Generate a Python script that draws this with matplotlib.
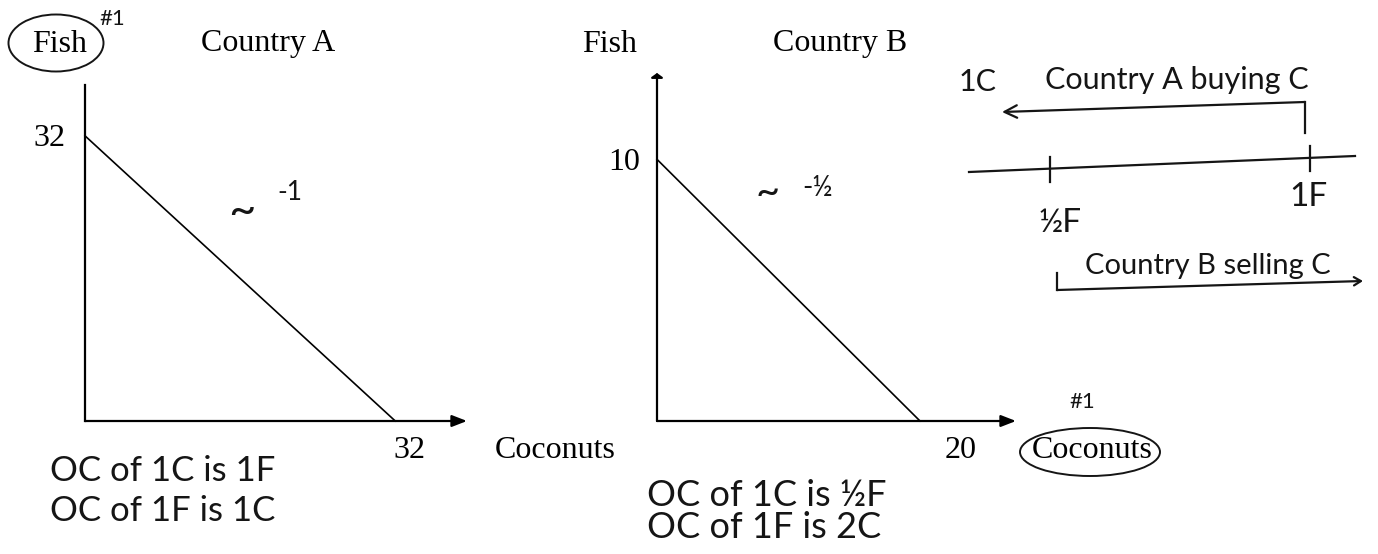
import matplotlib.pyplot as plt
from matplotlib.patches import Ellipse

# production possibilities: (max fish, max coconuts) for each country
countries = ['Country A', 'Country B']
fish_max = [32, 10]
coconut_max = [32, 20]
slope_notes = ['-1', '-½']
oc_notes = [['OC of 1C is 1F', 'OC of 1F is 1C'],
            ['OC of 1C is ½F', 'OC of 1F is 2C']]
# terms of trade, in fish per coconut
trade_prices = [0.5, 1.0]
trade_labels = ['½F', '1F']

W, H = 1378, 554
fig = plt.figure(figsize=(W / 100, H / 100), dpi=100)

# overlay in pixel units for labels and hand notes
over = fig.add_axes([0, 0, 1, 1])
over.set_xlim(0, W)
over.set_ylim(H, 0)
over.axis('off')

serif = 'Liberation Serif'
ink = '#151515'
hand = dict(family=['Lato', 'DejaVu Sans'], color=ink)


def ppf_axes(left, bottom, right, top, xmax, ymax):
    ax = fig.add_axes([left / W, (H - bottom) / H, (right - left) / W, (bottom - top) / H])
    ax.set_xlim(0, xmax)
    ax.set_ylim(0, ymax)
    ax.axis('off')
    return ax


axA = ppf_axes(85, 421, 467, 85, 39.4, 37.7)
axB = ppf_axes(657, 421, 1016, 73, 27.3, 13.3)

for ax, fm, cm, ytop_arrow in [(axA, fish_max[0], coconut_max[0], False),
                               (axB, fish_max[1], coconut_max[1], True)]:
    ax.plot([0, cm], [fm, 0], color='black', lw=1.2, clip_on=False)
    ax.annotate('', xy=(1, 0), xytext=(0, 0), xycoords='axes fraction',
                arrowprops=dict(arrowstyle='-|>,head_length=0.9,head_width=0.35',
                                color='black', lw=1.6, shrinkA=0, shrinkB=0))
    if ytop_arrow:
        ax.annotate('', xy=(0, 1), xytext=(0, 0), xycoords='axes fraction',
                    arrowprops=dict(arrowstyle='-|>,head_length=0.25,head_width=0.35',
                                    color='black', lw=1.6, shrinkA=0, shrinkB=0))
    else:
        ax.plot([0, 0], [0, 1], transform=ax.transAxes, color='black', lw=1.6,
                clip_on=False)

# printed labels
fs = 23
printed = [
    (60, 44, 'Fish'), (268, 44, countries[0]),
    (49, 138, str(fish_max[0])), (409, 450, str(coconut_max[0])),
    (555, 450, 'Coconuts'),
    (610, 44, 'Fish'), (840, 44, countries[1]),
    (624, 162, str(fish_max[1])), (961, 450, str(coconut_max[1])),
    (1092, 450, 'Coconuts'),
]
for x, y, s in printed:
    over.text(x, y, s, family=serif, fontsize=fs, ha='center', va='center')

# circled axis labels and "#1" marks
over.add_patch(Ellipse((56, 43), 95, 57, fill=False, ec=ink, lw=1.4))
over.add_patch(Ellipse((1090, 452), 140, 48, fill=False, ec=ink, lw=1.4))
over.text(112, 19, '#1', fontsize=16, ha='center', va='center', **hand)
over.text(1082, 402, '#1', fontsize=16, ha='center', va='center', **hand)

# slope notes next to each frontier
over.text(242, 212, '~', fontsize=34, ha='center', va='center', **hand)
over.text(290, 192, slope_notes[0], fontsize=19, ha='center', va='center', **hand)
over.text(768, 193, '~', fontsize=30, ha='center', va='center', **hand)
over.text(818, 188, slope_notes[1], fontsize=20, ha='center', va='center', **hand)

# opportunity cost notes under each graph
for (x, y0, dy, size), lines in zip([(50, 471, 40, 25), (647, 495, 33, 26)], oc_notes):
    for i, line in enumerate(lines):
        over.text(x, y0 + i * dy, line, fontsize=size, ha='left', va='center', **hand)

# number line of trade prices (drawn slightly tilted, by hand)
x_half, x_one = 1050, 1310
px_per_unit = (x_one - x_half) / (trade_prices[1] - trade_prices[0])
line_y = lambda x: 172 - (x - 969) * 16 / 386
over.plot([969, 1355], [line_y(969), line_y(1355)], color=ink, lw=1.6)
for p in trade_prices:
    xp = x_half + (p - trade_prices[0]) * px_per_unit
    over.plot([xp, xp], [line_y(xp) - 12, line_y(xp) + 13], color=ink, lw=1.6)
over.text(1060, 223, trade_labels[0], fontsize=24, ha='center', va='center', **hand)
over.text(1308, 197, trade_labels[1], fontsize=24, ha='center', va='center', **hand)

# Country A buying C arrow
over.text(978, 82, '1C', fontsize=22, ha='center', va='center', **hand)
over.text(1177, 80, 'Country A buying C', fontsize=22, ha='center', va='center', **hand)
over.plot([1305, 1305], [133, 102], color=ink, lw=1.6)
over.annotate('', xy=(1002, 112), xytext=(1305, 102),
              arrowprops=dict(arrowstyle='->,head_length=0.9,head_width=0.45',
                              color=ink, lw=1.6, shrinkA=0, shrinkB=0))

# Country B selling C arrow
over.text(1208, 266, 'Country B selling C', fontsize=21, ha='center', va='center', **hand)
over.plot([1057, 1057], [273, 290], color=ink, lw=1.6)
over.annotate('', xy=(1363, 281), xytext=(1057, 290),
              arrowprops=dict(arrowstyle='->,head_length=0.5,head_width=0.3',
                              color=ink, lw=1.6, shrinkA=0, shrinkB=0))

fig.savefig('out.png', dpi=100, facecolor='white')
